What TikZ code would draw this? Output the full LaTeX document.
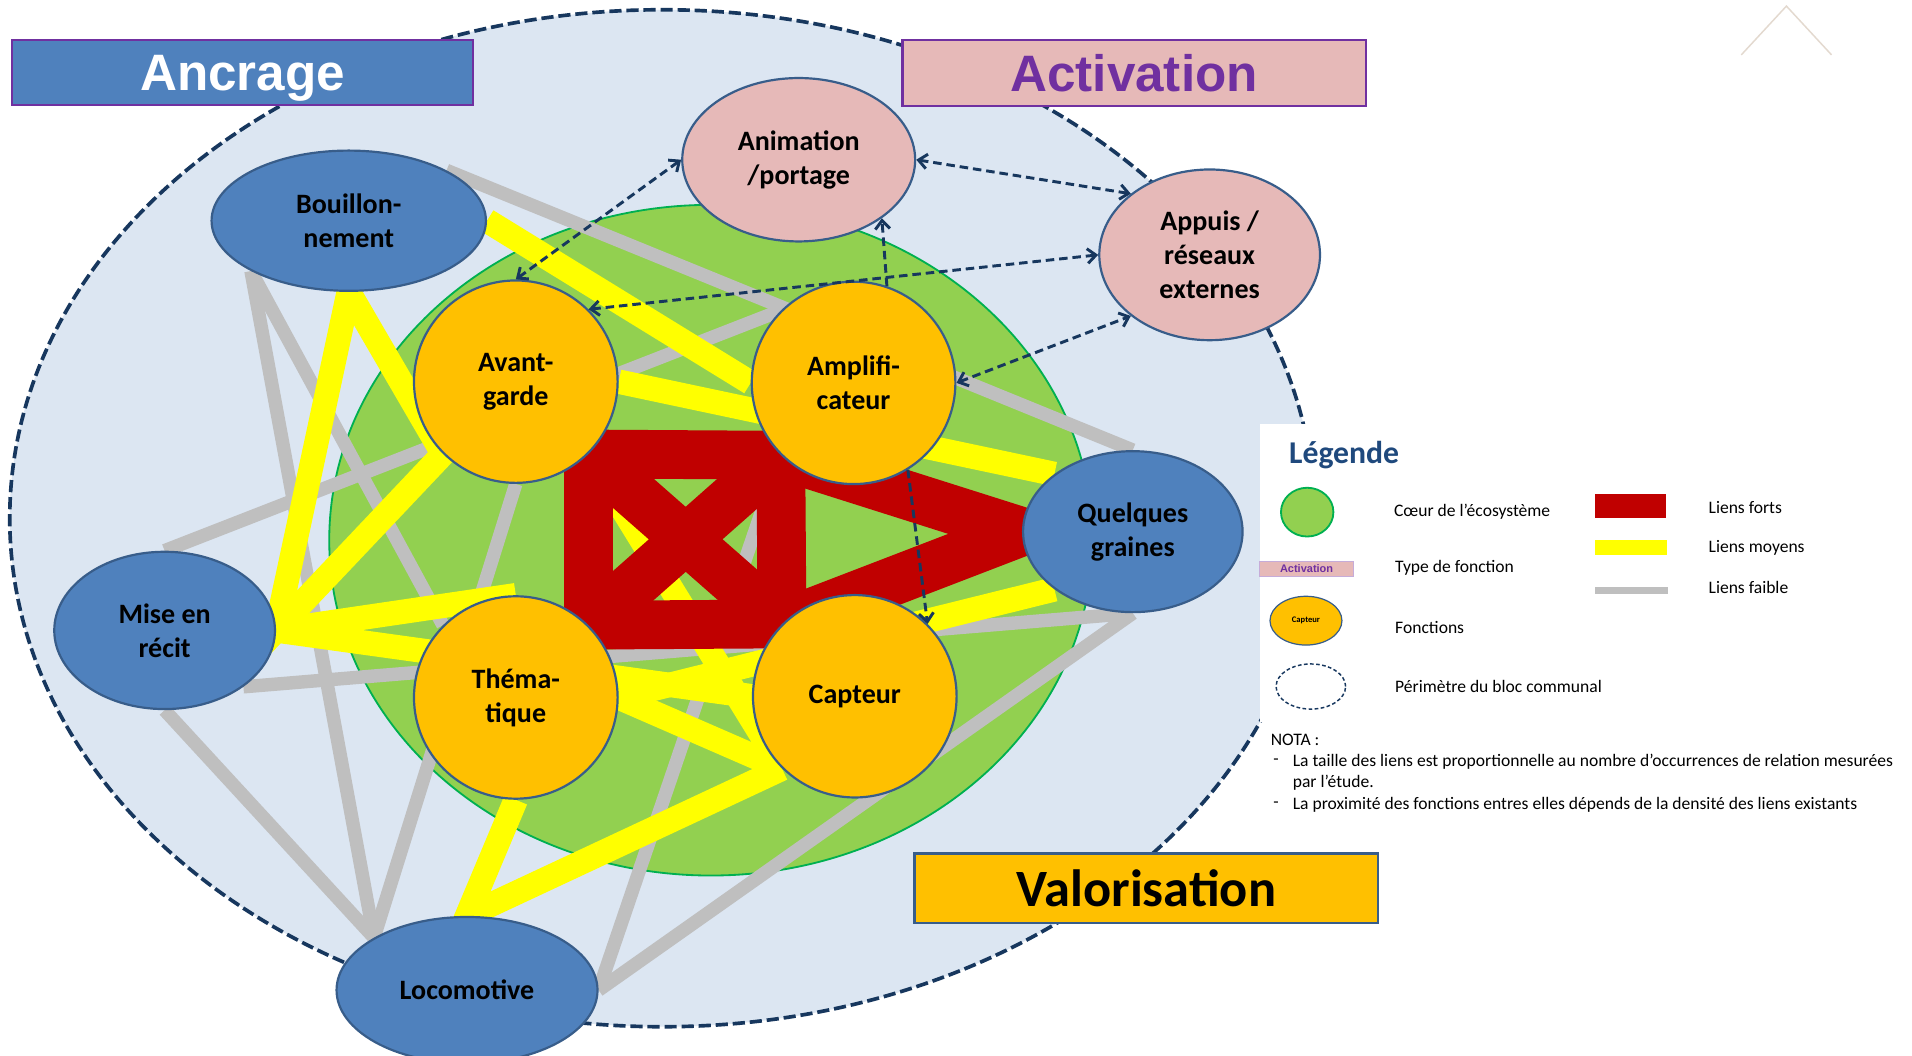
\documentclass[tikz,border=0pt]{standalone}
\usepackage{fontspec}
\setmainfont{Carlito}
\newfontfamily\arialfont{Liberation Sans}
\usepackage{tikz}
\usetikzlibrary{shapes.geometric,arrows.meta}

\definecolor{bleufct}{HTML}{4F81BD}
\definecolor{bordure}{HTML}{385D8A}
\definecolor{rosefct}{HTML}{E6B9B8}
\definecolor{jaunefct}{HTML}{FFC000}
\definecolor{violetact}{HTML}{7030A0}
\definecolor{ciel}{HTML}{DCE6F2}
\definecolor{vertcoeur}{HTML}{92D050}
\definecolor{vertbord}{HTML}{00B050}
\definecolor{marine}{HTML}{17375E}
\definecolor{gristrait}{HTML}{BFBFBF}
\definecolor{jaunetrait}{HTML}{FFFF00}
\definecolor{rougetrait}{HTML}{C00000}
\definecolor{titreleg}{HTML}{1F497D}
\definecolor{logo}{HTML}{E3D9CF}

\newcommand{\fontnoeud}{\fontsize{23}{28}\selectfont\bfseries}
\newcommand{\fontleg}{\fontsize{14.4}{17}\selectfont}

\pgfdeclarelayer{fond}
\pgfdeclarelayer{liens}
\pgfsetlayers{fond,liens,main}

\begin{document}
\begin{tikzpicture}[x=1pt, y=-1pt,
>={Straight Barb[length=7pt,width=12pt]},
base/.style={ellipse, draw=bordure, line width=1.8pt, inner sep=0pt, align=center, font=\fontnoeud},
fonction/.style={base, fill=jaunefct, minimum width=167pt, minimum height=166pt},
ancr/.style={base, fill=bleufct},
activ/.style={base, fill=rosefct},
titre/.style={rectangle, line width=2pt, inner sep=0pt, text depth=0pt, font=\arialfont\bfseries\fontsize{42}{48}\selectfont},
faible/.style={draw=gristrait, line width=11pt},
moyen/.style={draw=jaunetrait, line width=20pt, line join=miter},
fort/.style={draw=rougetrait, line width=40pt, line join=miter},
fleche/.style={draw=marine, line width=2.4pt, dash pattern=on 7pt off 4pt},
legtxt/.style={anchor=west, inner sep=0pt, font=\fontleg}
]
\useasboundingbox (0,0) rectangle (1568,866);

%Background
\begin{pgfonlayer}{fond}
\fill[white] (0,0) rectangle (1568,866);
\draw[fill=ciel, draw=marine, line width=3pt, dash pattern=on 10pt off 4pt] (543,425) ellipse [x radius=535pt, y radius=417pt];
\draw[fill=vertcoeur, draw=vertbord, line width=1.5pt] (583,443) ellipse [x radius=313pt, y radius=275pt];
\fill[white] (1033,348) rectangle (1568,592);
\draw[logo, line width=1.2pt] (1428,45) -- (1465,5) -- (1502,45);
\end{pgfonlayer}

%Nodes
\node[fonction] (avg) at (423,313) {Avant-\\garde};
\node[fonction] (amp) at (700,314) {Amplifi-\\cateur};
\node[fonction] (the) at (423,572) {Théma-\\tique};
\node[fonction] (cap) at (701,571) {Capteur};
\node[ancr, minimum width=225pt, minimum height=115pt] (bou) at (286,181) {Bouillon-\\nement};
\node[ancr, minimum width=181pt, minimum height=129pt] (mis) at (135,517) {Mise en\\récit};
\node[ancr, minimum width=214pt, minimum height=120pt] (loc) at (383,812) {Locomotive};
\node[ancr, minimum width=180pt, minimum height=132pt] (que) at (929,436) {Quelques\\graines};
\node[activ, minimum width=191pt, minimum height=134pt] (ani) at (655,131) {Animation\\/portage};
\node[activ, minimum width=181pt, minimum height=140pt] (app) at (992,209) {Appuis /\\réseaux\\externes};

%Links
\begin{pgfonlayer}{liens}
% faibles
\draw[faible] (bou.north east) -- (que.north);
\draw[faible] (mis.north) -- (amp.north west);
\draw[faible] (mis.south east) -- (que.south);
\draw[faible] (loc.east) -- (que.south);
\draw[faible] (loc.east) -- (amp.south west);
\draw[faible] (loc.north west) -- (bou.south west);
\draw[faible] (loc.north west) -- (mis.south);
\draw[faible] (loc.north west) -- (avg.south);
\draw[faible] (bou.south west) -- (the.north west);
% moyens
\draw[moyen] (bou.south) -- (mis.east) -- (avg.south west) -- cycle;
\draw[moyen] (mis.east) -- (the.north);
\draw[moyen] (mis.east) -- (cap.west);
\draw[moyen] (bou.east) -- (amp.west);
\draw[moyen] (avg.east) -- (que.north west);
\draw[moyen] (the.east) -- (que.south west);
\draw[moyen] (the.east) -- (cap.south west);
\draw[moyen] (avg.south east) -- (cap.south west);
\draw[moyen] (the.south) -- (loc.north) -- (cap.south west);
% forts
\draw[fort] (avg.south east) -- (amp.south west) -- (cap.north west) -- (the.north east) -- cycle;
\draw[fort] (avg.south east) -- (cap.north west);
\draw[fort] (the.north east) -- (amp.south west);
\draw[fort] (amp.south west) -- (que.west) -- (cap.north west);
\end{pgfonlayer}

%Arrows
\draw[fleche, <->] (avg.north) -- (ani.west);
\draw[fleche, <->] (ani.east) -- (app.north west);
\draw[fleche, <->] (avg.north east) -- (app.west);
\draw[fleche, <->] (amp.east) -- (app.south west);
\draw[fleche, ->] (amp.71) -- (ani.south east);
\draw[fleche, ->] (amp.-58) -- (cap.north east);

%Titles
\node[titre, fill=bleufct, draw=violetact, text=white, minimum width=378pt, minimum height=53pt] (tanc) at (199,59.5) {Ancrage};
\node[titre, fill=rosefct, draw=violetact, text=violetact, minimum width=380pt, minimum height=54pt] (tact) at (930,60) {Activation};
\node[titre, fill=jaunefct, draw=bordure, text=black, font=\bfseries\fontsize{43}{48}\selectfont, minimum width=380pt, minimum height=57pt] (tval) at (940,728.5) {Valorisation};

%Legend
\node[anchor=west, inner sep=0pt, text=titreleg, font=\bfseries\fontsize{26}{30}\selectfont] (legtitre) at (1057,373) {Légende};
\node[ellipse, draw=vertbord, line width=1.5pt, fill=vertcoeur, minimum width=43pt, minimum height=40pt, inner sep=0pt] (legcoeur) at (1072,420) {};
\node[rectangle, draw=violetact!40, line width=0.8pt, fill=rosefct, minimum width=77pt, minimum height=12pt, inner sep=0pt, text=violetact, font=\arialfont\bfseries\fontsize{9}{10}\selectfont] (legtype) at (1071.5,466.5) {Activation};
\node[ellipse, draw=bordure, line width=1pt, fill=jaunefct, minimum width=59pt, minimum height=40pt, inner sep=0pt, font=\bfseries\fontsize{7}{8}\selectfont] (legfct) at (1071,509) {Capteur};
\node[ellipse, draw=marine, line width=1.2pt, dash pattern=on 3pt off 2pt, minimum width=57pt, minimum height=37pt, inner sep=0pt] (legper) at (1075,563) {};
\node[legtxt] (txtcoeur) at (1143,420) {Cœur de l’écosystème};
\node[legtxt] (txttype) at (1144,466) {Type de fonction};
\node[legtxt] (txtfct) at (1144,515) {Fonctions};
\node[legtxt] (txtper) at (1144,563) {Périmètre du bloc communal};
\node[rectangle, fill=rougetrait, minimum width=58pt, minimum height=20pt, inner sep=0pt] (legfort) at (1337,415) {};
\node[rectangle, fill=jaunetrait, minimum width=59pt, minimum height=12pt, inner sep=0pt] (legmoyen) at (1337.5,449) {};
\node[rectangle, fill=gristrait, minimum width=60pt, minimum height=6pt, inner sep=0pt] (legfaible) at (1338,484) {};
\node[legtxt] (txtfort) at (1401,416) {Liens forts};
\node[legtxt] (txtmoyen) at (1401,449) {Liens moyens};
\node[legtxt] (txtfaible) at (1401,482) {Liens faible};

%Nota
\node[legtxt] (nota) at (1042,607) {NOTA :};
\node[legtxt] (tiret1) at (1044,625) {-};
\node[legtxt] (nota1) at (1060,625) {La taille des liens est proportionnelle au nombre d’occurrences de relation mesurées};
\node[legtxt] (nota1b) at (1060,642) {par l’étude.};
\node[legtxt] (tiret2) at (1044,660) {-};
\node[legtxt] (nota2) at (1060,660) {La proximité des fonctions entres elles dépends de la densité des liens existants};
\end{tikzpicture}
\end{document}
